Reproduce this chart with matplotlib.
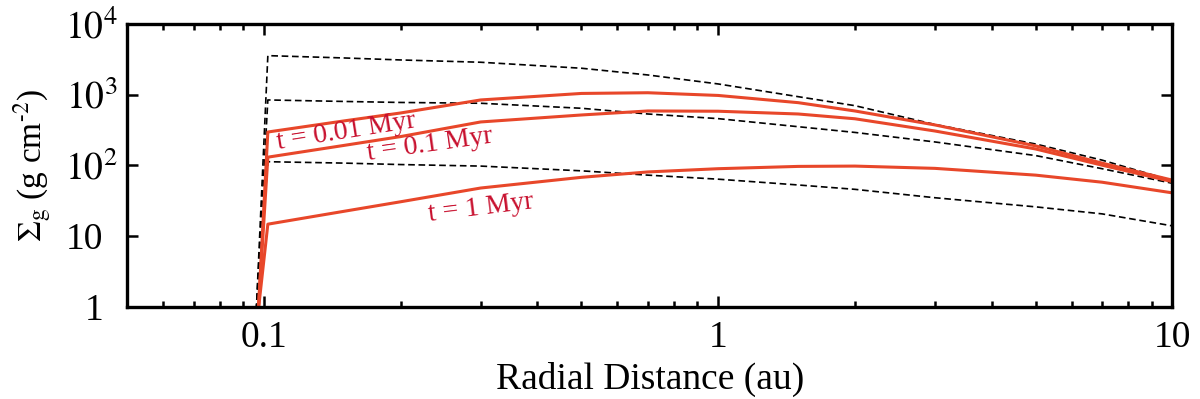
import matplotlib
matplotlib.use("Agg")
import matplotlib.pyplot as plt
from matplotlib.ticker import FixedLocator, FixedFormatter, LogLocator, NullFormatter

plt.rcParams['font.family'] = ['Liberation Serif', 'DejaVu Serif']
plt.rcParams['mathtext.fontset'] = 'stix'

# radial grid (au)
r_dash = [0.0962, 0.102, 0.15, 0.2, 0.3, 0.5, 0.7, 1.0, 1.5, 2.0, 3.0, 5.0, 7.0, 10.0]
r_red = [0.0972, 0.102, 0.15, 0.2, 0.3, 0.5, 0.7, 1.0, 1.5, 2.0, 3.0, 5.0, 7.0, 10.0]

# dashed (reference) profiles
dash_1 = [0.9, 3565, 3306, 3098, 2875, 2366, 1901, 1419, 938, 700, 380, 201, 119, 61]
dash_2 = [0.9, 843, 803, 777, 757, 643, 534, 459, 353, 293, 215, 138, 90, 56]
dash_3 = [0.9, 113, 108, 103, 98, 84, 73, 64, 53, 46, 35, 26, 20.7, 14]

# red profiles
red_001 = [0.9, 297, 426, 552, 843, 1042, 1066, 976, 772, 589, 374, 189, 108, 62]
red_01 = [0.9, 131, 192, 256, 412, 517, 589, 584, 534, 457, 307, 171, 101, 59]
red_1 = [0.9, 14.8, 22.5, 30.7, 48, 68, 81, 90, 97, 98, 91, 73, 58, 41]

labels = ["t = 0.01 Myr", "t = 0.1 Myr", "t = 1 Myr"]
label_x = [0.152, 0.232, 0.301]
label_y = [300, 197, 25]
label_rot = [9, 8, 7]

yticks = [1, 10, 100, 1000, 10000]
yticklabels = ["1", "10", "$10^2$", "$10^3$", "$10^4$"]
xticks = [0.1, 1, 10]
xticklabels = ["0.1", "1", "10"]

fig = plt.figure(figsize=(12, 3.99), dpi=100)
ax = fig.add_axes([0.106, 0.2306, 0.871, 0.7094])

red = '#e8472a'
txt_red = '#c8102e'
for d in (dash_1, dash_2, dash_3):
    ax.plot(r_dash, d, color='black', lw=1.2, ls=(0, (4, 2.2)))
for d in (red_001, red_01, red_1):
    ax.plot(r_red, d, color=red, lw=2.2)

ax.set_xscale('log')
ax.set_yscale('log')
ax.set_xlim(0.05, 10)
ax.set_ylim(1, 1e4)

ax.xaxis.set_major_locator(FixedLocator(xticks))
ax.xaxis.set_major_formatter(FixedFormatter(xticklabels))
ax.xaxis.set_minor_locator(LogLocator(base=10, subs=range(2, 10)))
ax.xaxis.set_minor_formatter(NullFormatter())
ax.yaxis.set_major_locator(FixedLocator(yticks))
ax.yaxis.set_major_formatter(FixedFormatter(yticklabels))
ax.yaxis.set_minor_locator(LogLocator(base=10, subs=range(2, 10)))
ax.yaxis.set_minor_formatter(NullFormatter())

ax.tick_params(which='both', direction='in', top=True, right=True, width=1.8)
ax.tick_params(which='major', length=8, labelsize=27)
ax.tick_params(axis='x', which='major', pad=10)
ax.tick_params(axis='y', which='major', pad=7)
ax.tick_params(which='minor', length=4.5)
for s in ax.spines.values():
    s.set_linewidth(2.4)

ticks = ax.yaxis.get_major_ticks()
ticks[0].set_pad(17)
ticks[1].set_pad(17)

ax.set_xlabel('Radial Distance (au)', fontsize=27, labelpad=5)
ax.set_ylabel('$\\Sigma_{\\rm g}$ (g cm$^{\u2010 2}$)', fontsize=24, labelpad=8)

for t, x, y, r in zip(labels, label_x, label_y, label_rot):
    ax.text(x, y, t, color=txt_red, fontsize=20, rotation=r,
            ha='center', va='center', rotation_mode='anchor')

fig.savefig('out.png', dpi=100)
